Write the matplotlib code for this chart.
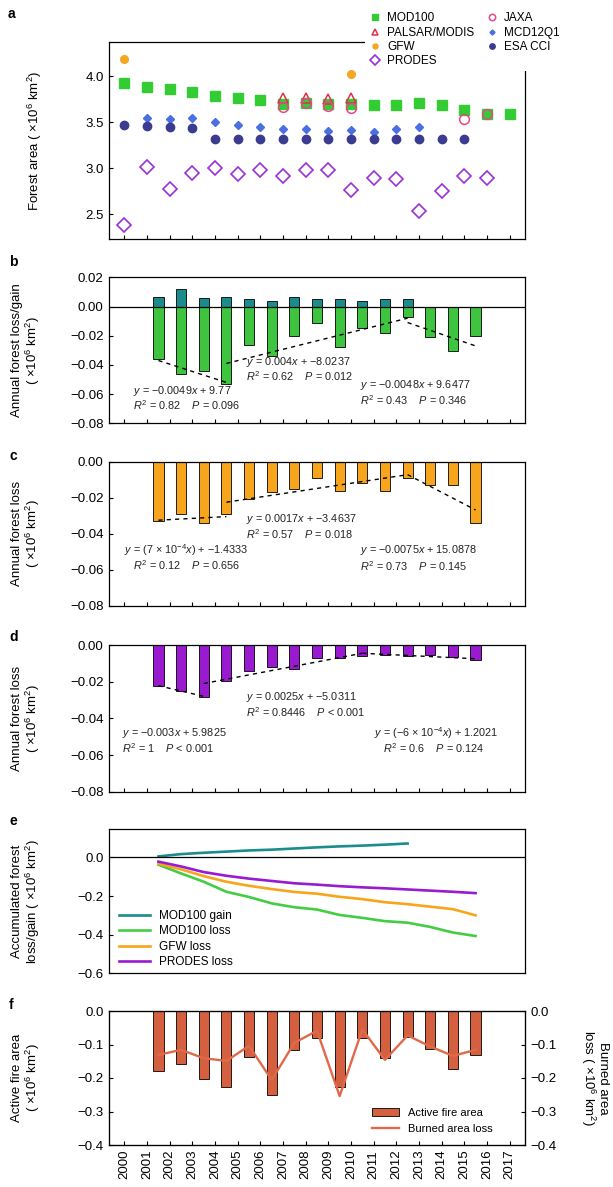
import matplotlib
matplotlib.use("Agg")
import matplotlib.pyplot as plt
from matplotlib.patches import Patch
from matplotlib.lines import Line2D

plt.rcParams["font.family"] = ["Liberation Sans", "DejaVu Sans"]
plt.rcParams["mathtext.fontset"] = "custom"
plt.rcParams["mathtext.rm"] = "Liberation Sans"
plt.rcParams["mathtext.it"] = "Liberation Sans:italic"
plt.rcParams["axes.unicode_minus"] = True

# ---------------- data ----------------
years = list(range(2000, 2018))

# panel a: forest area (x10^6 km2)
mod100_x = list(range(2000, 2018))
mod100_y = [3.93, 3.88, 3.86, 3.83, 3.79, 3.76, 3.74, 3.70, 3.71, 3.70,
            3.70, 3.69, 3.69, 3.71, 3.69, 3.63, 3.59, 3.59]
palsar_x = [2007, 2008, 2009, 2010]
palsar_y = [3.77, 3.77, 3.75, 3.76]
jaxa_x = [2007, 2008, 2009, 2010, 2015, 2016]
jaxa_y = [3.67, 3.71, 3.68, 3.66, 3.54, 3.59]
gfw_x = [2000, 2010]
gfw_y = [4.19, 4.03]
mcd_x = list(range(2001, 2014))
mcd_y = [3.55, 3.54, 3.55, 3.50, 3.47, 3.45, 3.43, 3.43, 3.41, 3.42, 3.40, 3.43, 3.45]
esa_x = list(range(2000, 2016))
esa_y = [3.47, 3.46, 3.45, 3.44, 3.32, 3.32, 3.32, 3.32, 3.32, 3.32,
         3.32, 3.32, 3.32, 3.32, 3.32, 3.32]
prodes_x = list(range(2000, 2017))
prodes_y = [2.39, 3.01, 2.78, 2.95, 3.00, 2.94, 2.98, 2.92, 2.98, 2.98,
            2.77, 2.90, 2.88, 2.54, 2.76, 2.92, 2.90]

# annual changes are plotted between years
period_x = [2001.5, 2002.5, 2003.5, 2004.5, 2005.5, 2006.5, 2007.5, 2008.5,
            2009.5, 2010.5, 2011.5, 2012.5, 2013.5, 2014.5, 2015.5]

# panel b: MOD100 gain / loss
mod_gain = [0.0068, 0.0119, 0.0059, 0.0068, 0.0048, 0.0039, 0.0068, 0.0048,
            0.0048, 0.0039, 0.0048, 0.0048, 0.0, 0.0, 0.0]
mod_loss = [-0.0358, -0.0463, -0.0441, -0.0530, -0.0263, -0.0336, -0.0201, -0.0114,
            -0.0274, -0.0148, -0.0183, -0.0075, -0.0212, -0.0304, -0.0201]
b_trend_x = [[2001.5, 2004.5], [2004.5, 2012.5], [2012.5, 2015.5]]
b_trend_y = [[-0.037, -0.052], [-0.039, -0.008], [-0.011, -0.027]]
b_eq = ["$y$ = −0.0049$x$ + 9.77", "$y$ = 0.004$x$ + −8.0237", "$y$ = −0.0048$x$ + 9.6477"]
b_stat = ["$R^2$ = 0.82    $P$ = 0.096", "$R^2$ = 0.62    $P$ = 0.012",
          "$R^2$ = 0.43    $P$ = 0.346"]
b_eq_pos = [(2000.38, -0.0582), (2005.37, -0.0381), (2010.40, -0.0541)]
b_stat_pos = [(2000.38, -0.0678), (2005.37, -0.0475), (2010.40, -0.0644)]

# panel c: GFW loss
gfw_loss = [-0.0330, -0.0293, -0.0343, -0.0293, -0.0207, -0.0170, -0.0152, -0.0093,
            -0.0163, -0.0117, -0.0163, -0.0093, -0.0131, -0.0131, -0.0343]
c_trend_x = [[2001.5, 2004.5], [2004.5, 2012.5], [2012.5, 2015.5]]
c_trend_y = [[-0.0325, -0.0305], [-0.0225, -0.0072], [-0.0072, -0.0268]]
c_eq = ["$y$ = (7 × 10$^{-4}$$x$) + −1.4333", "$y$ = 0.0017$x$ + −3.4637",
        "$y$ = −0.0075$x$ + 15.0878"]
c_stat = ["$R^2$ = 0.12    $P$ = 0.656", "$R^2$ = 0.57    $P$ = 0.018",
          "$R^2$ = 0.73    $P$ = 0.145"]
c_eq_pos = [(2000.0, -0.0491), (2005.37, -0.0320), (2010.40, -0.0491)]
c_stat_pos = [(2000.38, -0.0574), (2005.37, -0.0404), (2010.40, -0.0580)]

# panel d: PRODES loss
prodes_loss = [-0.0222, -0.0251, -0.0282, -0.0195, -0.0142, -0.0120, -0.0129, -0.0071,
               -0.0073, -0.0062, -0.0053, -0.0062, -0.0055, -0.0064, -0.0082]
d_trend_x = [[2001.5, 2003.5], [2003.5, 2010.5], [2010.5, 2015.5]]
d_trend_y = [[-0.0222, -0.0280], [-0.0210, -0.0045], [-0.0045, -0.0075]]
d_eq = ["$y$ = −0.003$x$ + 5.9825", "$y$ = 0.0025$x$ + −5.0311",
        "$y$ = (−6 × 10$^{-4}$$x$) + 1.2021"]
d_stat = ["$R^2$ = 1    $P$ < 0.001", "$R^2$ = 0.8446    $P$ < 0.001",
          "$R^2$ = 0.6    $P$ = 0.124"]
d_eq_pos = [(1999.9, -0.0482), (2005.37, -0.0285), (2011.02, -0.0482)]
d_stat_pos = [(1999.9, -0.0564), (2005.37, -0.0364), (2011.40, -0.0564)]

# panel e: accumulated loss / gain
acc_gain_x = period_x[:12]
acc_gain = [0.005, 0.017, 0.024, 0.030, 0.036, 0.040, 0.046, 0.052, 0.057, 0.061, 0.066, 0.072]
acc_mod_loss = [-0.038, -0.083, -0.126, -0.178, -0.205, -0.238, -0.258, -0.270,
                -0.298, -0.313, -0.330, -0.338, -0.360, -0.389, -0.407]
acc_gfw_loss = [-0.033, -0.062, -0.097, -0.126, -0.147, -0.164, -0.179, -0.188,
                -0.204, -0.216, -0.232, -0.242, -0.255, -0.268, -0.300]
acc_prodes_loss = [-0.022, -0.047, -0.076, -0.095, -0.110, -0.122, -0.134, -0.141,
                   -0.149, -0.155, -0.160, -0.166, -0.172, -0.178, -0.185]

# panel f: fire
active_fire = [-0.179, -0.158, -0.203, -0.226, -0.136, -0.251, -0.116, -0.080,
               -0.226, -0.080, -0.139, -0.077, -0.114, -0.174, -0.131]
burned_loss = [-0.131, -0.116, -0.141, -0.149, -0.104, -0.206, -0.095, -0.059,
               -0.254, -0.055, -0.146, -0.073, -0.106, -0.134, -0.116]

# ---------------- layout ----------------
W, H = 613, 1187
fig = plt.figure(figsize=(W / 100, H / 100), dpi=100)

left_px, right_px = 108.6, 525.4
panel_px = {"a": (42.3, 239.3), "b": (277.3, 423.3), "c": (461.7, 605.7),
            "d": (645.0, 791.7), "e": (829.0, 973.3), "f": (1011.0, 1145.0)}
label_pos = {"a": (8, 14), "b": (9, 262), "c": (9, 456), "d": (9, 637), "e": (9, 821), "f": (9, 1005)}

axes = {}
for k, (top, bot) in panel_px.items():
    axes[k] = fig.add_axes([left_px / W, 1 - bot / H, (right_px - left_px) / W, (bot - top) / H])
    lx, ly = label_pos[k]
    fig.text(lx / W, 1 - ly / H, k, fontsize=10, fontweight="bold", va="center", ha="left")

FS = 9.5
LFS = 9.5
for k, ax in axes.items():
    ax.set_xlim(1999.3, 2017.7)
    ax.set_xticks(years)
    ax.tick_params(axis="both", direction="in", length=3, width=0.8, labelsize=FS)
    ax.tick_params(axis="x", labelbottom=False)
    for s in ax.spines.values():
        s.set_linewidth(0.9)

# ---- a ----
ax = axes["a"]
ax.plot(mod100_x, mod100_y, "s", ms=7, color="#33cc33", mec="#33cc33", label="MOD100", zorder=3)
ax.plot(palsar_x, palsar_y, "^", ms=7.5, mfc="none", mec="#e0304a", mew=1.1, label="PALSAR/MODIS", zorder=4)
ax.plot(gfw_x, gfw_y, "o", ms=5.5, color="#f5a623", label="GFW", zorder=3)
ax.plot(prodes_x, prodes_y, "D", ms=7.5, mfc="none", mec="#9b30d9", mew=1.2, label="PRODES", zorder=3)
ax.plot(jaxa_x, jaxa_y, "o", ms=7, mfc="none", mec="#e8458b", mew=1.1, label="JAXA", zorder=4)
ax.plot(mcd_x, mcd_y, "D", ms=4, color="#4a6fe3", label="MCD12Q1", zorder=3)
ax.plot(esa_x, esa_y, "o", ms=6, color="#3b3b8f", label="ESA CCI", zorder=3)
ax.set_ylim(2.23, 4.37)
ax.set_yticks([2.5, 3.0, 3.5, 4.0])
ax.set_yticklabels(["2.5", "3.0", "3.5", "4.0"])
ax.set_ylabel("Forest area ( ×10$^6$ km$^2$)", fontsize=LFS)
ax.yaxis.set_label_coords(-0.155, 0.5)
leg = ax.legend(ncol=2, loc="upper left", bbox_to_anchor=(0.60, 1.20), fontsize=8.5,
                frameon=True, facecolor="white", edgecolor="none", framealpha=1,
                markerscale=0.65, handletextpad=0.4, columnspacing=0.9,
                labelspacing=0.2, borderpad=0.3, handlelength=1.2)
leg.set_zorder(10)


def loss_panel(ax, vals, color, tx, ty, eqs, stats, eq_pos, stat_pos):
    ax.bar(period_x, vals, width=0.45, color=color, edgecolor="black", linewidth=0.6, zorder=2)
    for xs, ys in zip(tx, ty):
        ax.plot(xs, ys, color="black", ls=(0, (3, 3)), lw=1.0, zorder=3)
    for t, p in zip(eqs, eq_pos):
        ax.text(p[0], p[1], t, fontsize=7.8, va="center", ha="left", color="#222222")
    for t, p in zip(stats, stat_pos):
        ax.text(p[0], p[1], t, fontsize=7.8, va="center", ha="left", color="#222222")


# ---- b ----
ax = axes["b"]
ax.bar(period_x, mod_gain, width=0.45, color="#1a8c8c", edgecolor="black", linewidth=0.6, zorder=2)
loss_panel(ax, mod_loss, "#3ec43e", b_trend_x, b_trend_y, b_eq, b_stat, b_eq_pos, b_stat_pos)
ax.axhline(0, color="black", lw=0.9, zorder=4)
ax.set_ylim(-0.08, 0.02)
ax.set_yticks([-0.08, -0.06, -0.04, -0.02, 0.0, 0.02])
ax.set_yticklabels(["−0.08", "−0.06", "−0.04", "−0.02", "0.00", "0.02"])
ax.set_ylabel("Annual forest loss/gain\n( ×10$^6$ km$^2$)", fontsize=LFS, linespacing=1.05)
ax.yaxis.set_label_coords(-0.16, 0.5)

# ---- c ----
ax = axes["c"]
loss_panel(ax, gfw_loss, "#f7a51c", c_trend_x, c_trend_y, c_eq, c_stat, c_eq_pos, c_stat_pos)
ax.set_ylim(-0.08, 0.0)
ax.set_yticks([-0.08, -0.06, -0.04, -0.02, 0.0])
ax.set_yticklabels(["−0.08", "−0.06", "−0.04", "−0.02", "0.00"])
ax.set_ylabel("Annual forest loss\n( ×10$^6$ km$^2$)", fontsize=LFS, linespacing=1.05)
ax.yaxis.set_label_coords(-0.16, 0.5)

# ---- d ----
ax = axes["d"]
loss_panel(ax, prodes_loss, "#9a1ad0", d_trend_x, d_trend_y, d_eq, d_stat, d_eq_pos, d_stat_pos)
ax.set_ylim(-0.08, 0.0)
ax.set_yticks([-0.08, -0.06, -0.04, -0.02, 0.0])
ax.set_yticklabels(["−0.08", "−0.06", "−0.04", "−0.02", "0.00"])
ax.set_ylabel("Annual forest loss\n( ×10$^6$ km$^2$)", fontsize=LFS, linespacing=1.05)
ax.yaxis.set_label_coords(-0.16, 0.5)

# ---- e ----
ax = axes["e"]
ax.plot(acc_gain_x, acc_gain, color="#1a8c8c", lw=1.9, label="MOD100 gain")
ax.plot(period_x, acc_mod_loss, color="#44cc44", lw=1.9, label="MOD100 loss")
ax.plot(period_x, acc_gfw_loss, color="#f7a51c", lw=1.9, label="GFW loss")
ax.plot(period_x, acc_prodes_loss, color="#9a1ad0", lw=1.9, label="PRODES loss")
ax.axhline(0, color="black", lw=0.9)
ax.set_ylim(-0.6, 0.147)
ax.set_yticks([-0.6, -0.4, -0.2, 0.0])
ax.set_yticklabels(["−0.6", "−0.4", "−0.2", "0.0"])
ax.tick_params(axis="x", length=0)
ax.set_ylabel("Accumulated forest\nloss/gain ( ×10$^6$ km$^2$)", fontsize=LFS, linespacing=1.05)
ax.yaxis.set_label_coords(-0.16, 0.5)
ax.legend(loc="lower left", bbox_to_anchor=(0.0, -0.04), frameon=False, fontsize=8.5,
          handlelength=2.6, labelspacing=0.3)

# ---- f ----
ax = axes["f"]
ax.bar(period_x, active_fire, width=0.45, color="#d4603f", edgecolor="black", linewidth=0.6)
ax.set_ylim(-0.4, 0.0)
ax.set_yticks([-0.4, -0.3, -0.2, -0.1, 0.0])
ax.set_yticklabels(["−0.4", "−0.3", "−0.2", "−0.1", "0.0"])
ax.tick_params(axis="x", labelbottom=True, labelrotation=90, labelsize=FS)
ax.set_ylabel("Active fire area\n( ×10$^6$ km$^2$)", fontsize=LFS, linespacing=1.05)
ax.yaxis.set_label_coords(-0.16, 0.5)
ax2 = ax.twinx()
ax2.plot(period_x, burned_loss, color="#e0694a", lw=1.7)
ax2.set_ylim(-0.4, 0.0)
ax2.set_yticks([-0.4, -0.3, -0.2, -0.1, 0.0])
ax2.set_yticklabels(["−0.4", "−0.3", "−0.2", "−0.1", "0.0"])
ax2.tick_params(axis="y", direction="in", length=3, width=0.8, labelsize=FS)
fig.text(594 / W, 1 - 1078 / H, "Burned area\nloss ( ×10$^6$ km$^2$)", fontsize=LFS,
         rotation=270, ha="center", va="center", multialignment="center", linespacing=1.05)
handles = [Patch(facecolor="#d4603f", edgecolor="black", linewidth=0.6, label="Active fire area"),
           Line2D([0], [0], color="#e0694a", lw=1.7, label="Burned area loss")]
ax.legend(handles=handles, loc="lower right", bbox_to_anchor=(0.945, 0.01), frameon=False,
          fontsize=8, handlelength=2.4, labelspacing=0.5)

fig.savefig("out.png", dpi=100)
